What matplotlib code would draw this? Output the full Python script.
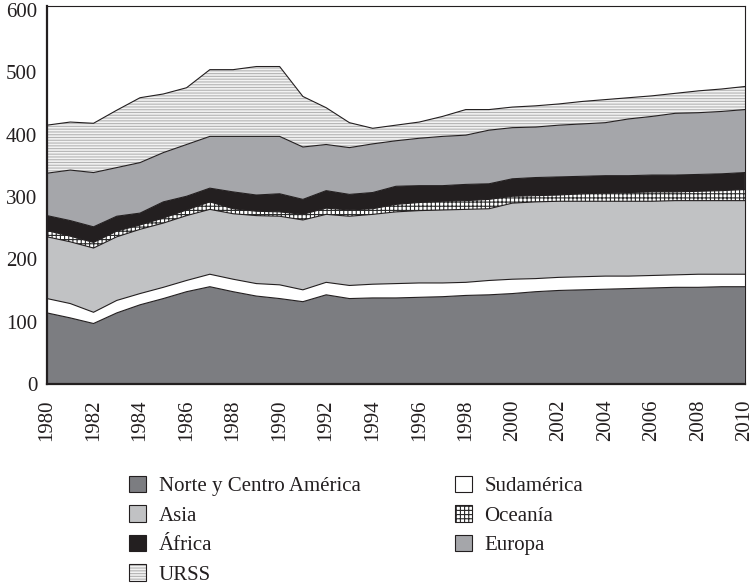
import numpy as np
import matplotlib
matplotlib.use("Agg")
import matplotlib.pyplot as plt
from matplotlib.patches import Patch

plt.rcParams['font.family'] = 'serif'
plt.rcParams['font.serif'] = ['Liberation Serif', 'DejaVu Serif']
plt.rcParams['hatch.linewidth'] = 0.8

OUT_PNG = "out.png"

years = list(range(1980, 2011))
xticks = list(range(1980, 2011, 2))
yticks = [0, 100, 200, 300, 400, 500, 600]

norte_centro = [114, 106, 97, 114, 127, 137, 148, 156, 148, 141, 137, 132, 143, 137, 138, 138,
                139, 140, 142, 143, 145, 148, 150, 151, 152, 153, 154, 155, 155, 156, 156]
sudamerica = [23, 23, 18, 20, 18, 18, 18, 20, 20, 20, 22, 19, 20, 21, 22, 23,
              23, 22, 21, 23, 23, 21, 21, 21, 21, 20, 20, 20, 21, 20, 20]
asia = [99, 99, 103, 102, 103, 103, 104, 104, 105, 109, 110, 112, 109, 111, 112, 115,
        116, 117, 117, 115, 122, 123, 122, 121, 120, 120, 119, 119, 118, 118, 118]
oceania = [10, 9, 9, 9, 7, 8, 9, 12, 8, 7, 7, 9, 10, 10, 9, 12,
           13, 14, 14, 15, 11, 10, 10, 12, 13, 14, 15, 14, 15, 16, 18]
africa = [24, 25, 25, 24, 19, 26, 22, 22, 27, 26, 29, 24, 28, 25, 26, 29,
          27, 25, 26, 25, 28, 29, 29, 28, 28, 27, 27, 27, 27, 27, 27]
europa = [68, 81, 87, 78, 81, 79, 83, 83, 89, 94, 92, 84, 74, 75, 78, 73,
          76, 79, 79, 86, 82, 81, 83, 84, 85, 91, 94, 99, 99, 100, 101]
urss = [77, 77, 79, 92, 104, 94, 91, 107, 107, 112, 112, 81, 59, 40, 25, 25,
        26, 32, 41, 33, 33, 34, 34, 36, 37, 34, 33, 32, 35, 36, 37]

names = ["Norte y Centro América", "Sudamérica", "Asia", "Oceanía", "África", "Europa", "URSS"]
fills = ["#7c7d81", "#ffffff", "#c1c2c4", "#ffffff", "#231f20", "#a5a6aa", "#f2f2f2"]
hatches = [None, None, None, "++++", None, None, "------"]
hatch_cols = [None, None, None, "#2a2a2a", None, None, "#b4b4b4"]
EDGE = "#231f20"


def plot_stack(path):
    fig = plt.figure(figsize=(7.54, 5.86), dpi=100)
    ax = fig.add_axes([0.0623, 0.3447, 0.9257, 0.645])

    series = [norte_centro, sudamerica, asia, oceania, africa, europa, urss]
    polys = ax.stackplot(years, *series, colors=fills, linewidth=0)
    for p, h, hc in zip(polys, hatches, hatch_cols):
        if h:
            p.set_hatch(h)
            p.set_edgecolor(hc)
            p.set_linewidth(0)

    # lineas de borde entre capas
    tops = np.cumsum(np.array(series), axis=0)
    for t in tops:
        ax.plot(years, t, color=EDGE, lw=0.8)

    ax.set_xlim(1980, 2010)
    ax.set_ylim(0, 606)
    ax.set_xticks(xticks)
    ax.set_yticks(yticks)
    ax.tick_params(axis='both', length=0, labelsize=15, colors=EDGE)
    ax.tick_params(axis='x', rotation=90, pad=11)
    ax.tick_params(axis='y', pad=7)
    for s in ['left', 'bottom']:
        ax.spines[s].set_linewidth(1.6)
        ax.spines[s].set_color(EDGE)
    for s in ['top', 'right']:
        ax.spines[s].set_linewidth(0.8)
        ax.spines[s].set_color(EDGE)

    def handle(i):
        if hatches[i]:
            return (Patch(facecolor=fills[i], edgecolor=hatch_cols[i], hatch=hatches[i], lw=0),
                    Patch(facecolor='none', edgecolor=EDGE, lw=0.8))
        return Patch(facecolor=fills[i], edgecolor=EDGE, lw=0.8)

    order = [0, 2, 4, 6, 1, 3, 5]
    fig.legend([handle(i) for i in order], [names[i] for i in order],
               ncol=2, loc='upper left', bbox_to_anchor=(0.171, 0.188),
               frameon=False, fontsize=15, handlelength=0.82, handleheight=0.82,
               handletextpad=0.62, labelspacing=0.44, columnspacing=4.5,
               borderpad=0, borderaxespad=0, labelcolor=EDGE)

    fig.savefig(path, dpi=100)
    plt.close(fig)


if __name__ == "__main__":
    plot_stack(OUT_PNG)
